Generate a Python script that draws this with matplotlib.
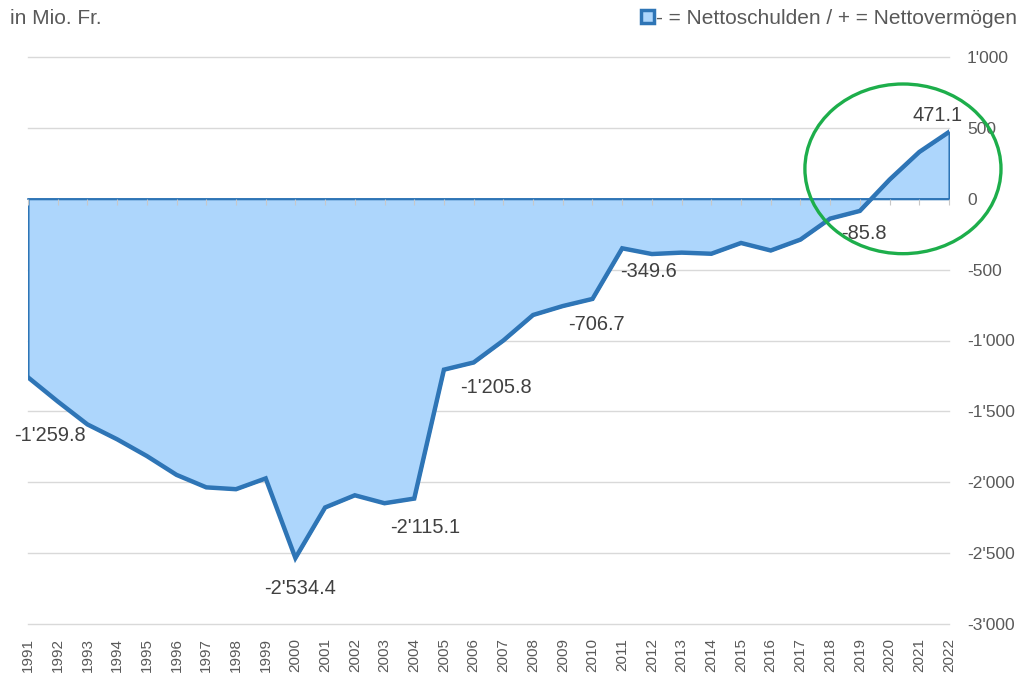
"""
Nettoschulden / Nettovermögen 1991-2022, in Mio. Fr.
"""
import matplotlib
matplotlib.use("Agg")
import matplotlib.pyplot as plt
from matplotlib.patches import Ellipse, Patch

# ---------------------------------------------------------------------------
# Daten
# ---------------------------------------------------------------------------
years = list(range(1991, 2023))
values = [
    -1259.8, -1430, -1592, -1697, -1815, -1948, -2036, -2049, -1973, -2534.4,
    -2178, -2092, -2148, -2115.1, -1205.8, -1155, -1000, -820, -757, -706.7,
    -349.6, -390, -380, -388, -312, -365, -288, -140, -85.8, 135,
    330, 471.1,
]
label_years = [1991, 2000, 2004, 2005, 2010, 2011, 2019, 2022]
# Label-Versatz in Pixeln (dx, dy)
label_offsets = [(22, -58), (5, -30), (11, -29), (52, -18), (4, -26),
                 (26, -23), (4, -23), (-11, 16)]
y_ticks = [1000, 500, 0, -500, -1000, -1500, -2000, -2500, -3000]

# ---------------------------------------------------------------------------
# Stil
# ---------------------------------------------------------------------------
LINE_COLOR = "#2E75B6"
FILL_COLOR = "#ADD6FC"
GRID_COLOR = "#D9D9D9"
TEXT_COLOR = "#404040"
TICK_COLOR = "#595959"
CIRCLE_COLOR = "#1DAE4B"

plt.rcParams["font.family"] = ["Liberation Sans", "DejaVu Sans"]


def fmt(v):
    s = f"{abs(v):,.1f}".replace(",", "'")
    return ("-" if v < 0 else "") + s


def fmt_tick(v):
    s = f"{abs(v):,.0f}".replace(",", "'")
    return ("-" if v < 0 else "") + s


fig = plt.figure(figsize=(10.21, 6.78), dpi=100)
ax = fig.add_axes([28 / 1021, 1 - 624 / 678, 921 / 1021, 567 / 678])

# Gitterlinien unter der Fläche
for yv in y_ticks:
    if yv != 0:
        ax.axhline(yv, color=GRID_COLOR, linewidth=1.0, zorder=0,
                   clip_on=False)

ax.fill_between(years, values, 0, facecolor=FILL_COLOR, edgecolor=LINE_COLOR,
                linewidth=1.5, zorder=1)
ax.plot(years, values, color=LINE_COLOR, linewidth=3.2, zorder=3,
        solid_joinstyle="miter")

ax.set_xlim(1991, 2022)
ax.set_ylim(-3000, 1000)
ax.set_axisbelow(False)

# y-Achse rechts
ax.yaxis.tick_right()
ax.set_yticks(y_ticks)
ax.set_yticklabels([fmt_tick(v) for v in y_ticks])
ax.tick_params(axis="y", length=0, pad=13, labelsize=12.5,
               labelcolor=TICK_COLOR)

for side in ["top", "left", "right"]:
    ax.spines[side].set_visible(False)

# Nulllinie mit Ticks
ax.spines["bottom"].set_position(("data", 0))
ax.spines["bottom"].set_color(LINE_COLOR)
ax.spines["bottom"].set_linewidth(1.2)
ax.set_xticks(years)
ax.tick_params(axis="x", length=4, color="#C8C8C8", labelbottom=False,
               direction="out")

# Jahreslabels unten
sec = ax.secondary_xaxis("bottom")
sec.set_xticks(years)
sec.set_xticklabels([str(y) for y in years], rotation=90)
sec.tick_params(length=0, pad=10, labelsize=11, labelcolor=TICK_COLOR)
sec.spines["bottom"].set_visible(False)

# Datenlabels
for yr, (dx, dy) in zip(label_years, label_offsets):
    v = values[years.index(yr)]
    ax.annotate(fmt(v), (yr, v), xytext=(dx, dy), textcoords="offset pixels",
                ha="center", va="center", fontsize=14.4, color=TEXT_COLOR,
                zorder=5)

# Grüne Markierung
ax.add_patch(Ellipse((2020.45, 211), 6.6, 1197, fill=False,
                     edgecolor=CIRCLE_COLOR, linewidth=2.4, clip_on=False,
                     zorder=6))

fig.text(10 / 1021, 1 - 18 / 678, "in Mio. Fr.", fontsize=15,
         color=TICK_COLOR, ha="left", va="center")

handle = Patch(facecolor=FILL_COLOR, edgecolor=LINE_COLOR, linewidth=2.5)
fig.legend([handle], ["- = Nettoschulden / + = Nettovermögen"],
           loc="center right", bbox_to_anchor=(1017 / 1021, 1 - 18 / 678),
           frameon=False, fontsize=15, labelcolor=TICK_COLOR,
           handlelength=0.6, handleheight=0.6, handletextpad=0.1,
           borderpad=0, borderaxespad=0)

fig.savefig("out.png", dpi=100, facecolor="white")
